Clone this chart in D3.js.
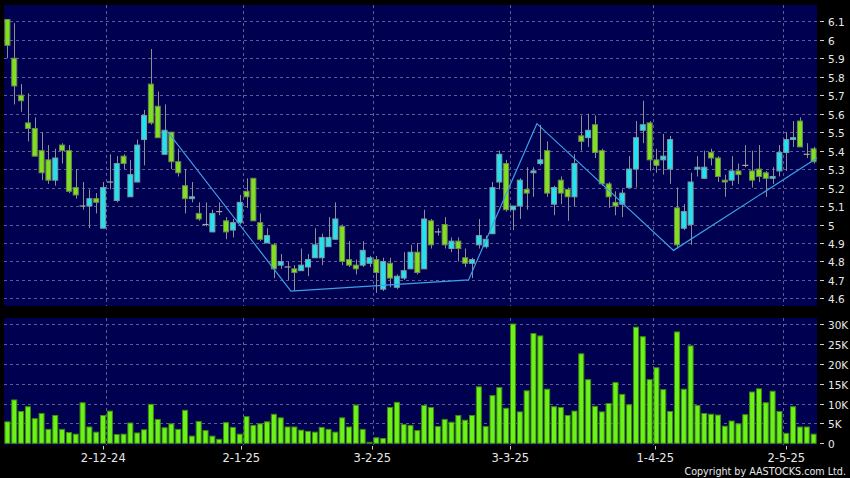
<!DOCTYPE html>
<html><head><meta charset="utf-8">
<script src="https://cdn.jsdelivr.net/npm/d3@7"></script>
<style>html,body{margin:0;padding:0;background:#000;}svg{display:block;}</style>
</head><body>
<svg id="c" width="850" height="478"></svg>
<script>
// ---------- DATA ----------
const dates = [
 "2024-11-11","2024-11-12","2024-11-13","2024-11-14","2024-11-15","2024-11-18","2024-11-19","2024-11-20","2024-11-21","2024-11-22",
 "2024-11-25","2024-11-26","2024-11-27","2024-11-28","2024-11-29","2024-12-02","2024-12-03","2024-12-04","2024-12-05","2024-12-06",
 "2024-12-09","2024-12-10","2024-12-11","2024-12-12","2024-12-13","2024-12-16","2024-12-17","2024-12-18","2024-12-19","2024-12-20",
 "2024-12-23","2024-12-24","2024-12-27","2024-12-30","2024-12-31","2025-01-02","2025-01-03","2025-01-06","2025-01-07","2025-01-08",
 "2025-01-09","2025-01-10","2025-01-13","2025-01-14","2025-01-15","2025-01-16","2025-01-17","2025-01-20","2025-01-21","2025-01-22",
 "2025-01-23","2025-01-24","2025-01-27","2025-01-28","2025-02-03","2025-02-04","2025-02-05","2025-02-06","2025-02-07","2025-02-10",
 "2025-02-11","2025-02-12","2025-02-13","2025-02-14","2025-02-17","2025-02-18","2025-02-19","2025-02-20","2025-02-21","2025-02-24",
 "2025-02-25","2025-02-26","2025-02-27","2025-02-28","2025-03-03","2025-03-04","2025-03-05","2025-03-06","2025-03-07","2025-03-10",
 "2025-03-11","2025-03-12","2025-03-13","2025-03-14","2025-03-17","2025-03-18","2025-03-19","2025-03-20","2025-03-21","2025-03-24",
 "2025-03-25","2025-03-26","2025-03-27","2025-03-28","2025-03-31","2025-04-01","2025-04-02","2025-04-03","2025-04-07","2025-04-08",
 "2025-04-09","2025-04-10","2025-04-11","2025-04-14","2025-04-15","2025-04-16","2025-04-17","2025-04-22","2025-04-23","2025-04-24",
 "2025-04-25","2025-04-28","2025-04-29","2025-04-30","2025-05-02","2025-05-06","2025-05-07","2025-05-08","2025-05-09"];

const open = [
 6.11,5.90,5.70,5.55,5.52,5.40,5.35,5.24,5.43,5.40,
 5.20,5.10,5.10,5.14,4.98,5.23,5.13,5.37,5.15,5.23,
 5.46,5.76,5.64,5.38,5.50,5.34,5.21,5.14,5.06,5.00,
 4.96,5.07,5.02,4.97,5.01,5.18,5.25,5.01,4.90,4.89,
 4.78,4.77,4.76,4.75,4.77,4.82,4.82,4.88,4.92,4.99,
 4.81,4.78,4.78,4.79,4.81,4.65,4.79,4.66,4.71,4.76,
 4.85,4.76,5.02,4.96,5.00,4.87,4.91,4.82,4.79,4.89,
 4.88,4.95,5.23,5.33,5.08,5.10,5.19,5.28,5.33,5.40,
 5.11,5.24,5.19,5.15,5.48,5.47,5.54,5.40,5.22,5.12,
 5.11,5.20,5.30,5.51,5.55,5.35,5.35,5.30,5.09,4.98,
 5.00,5.30,5.25,5.39,5.36,5.24,5.24,5.29,5.32,5.29,
 5.30,5.28,5.25,5.29,5.39,5.46,5.56,5.38,5.41];
const high = [
 6.11,6.09,5.76,5.71,5.58,5.50,5.43,5.41,5.44,5.43,
 5.30,5.23,5.19,5.17,5.23,5.38,5.37,5.38,5.35,5.46,
 5.62,5.95,5.72,5.65,5.50,5.41,5.30,5.23,5.12,5.12,
 5.08,5.12,5.04,5.03,5.16,5.25,5.25,5.06,4.98,4.90,
 4.84,4.80,4.78,4.87,4.84,4.98,4.95,5.04,5.12,5.00,
 4.91,4.81,4.91,4.83,4.83,4.82,4.82,4.73,4.85,4.89,
 4.90,5.08,5.03,4.98,5.04,4.93,4.93,4.87,4.82,5.03,
 4.94,5.23,5.40,5.35,5.10,5.25,5.31,5.31,5.54,5.45,
 5.21,5.26,5.20,5.38,5.59,5.60,5.59,5.41,5.23,5.18,
 5.19,5.37,5.56,5.67,5.56,5.41,5.49,5.48,5.20,5.11,
 5.28,5.37,5.40,5.41,5.37,5.27,5.37,5.33,5.43,5.40,
 5.43,5.29,5.31,5.43,5.50,5.56,5.58,5.44,5.42];
const low = [
 5.90,5.65,5.61,5.45,5.37,5.24,5.22,5.21,5.33,5.17,
 5.14,5.08,4.98,5.06,4.98,5.19,5.12,5.30,5.15,5.23,
 5.32,5.54,5.47,5.38,5.30,5.26,5.06,5.12,5.02,4.99,
 4.96,5.05,4.92,4.93,5.00,5.09,5.02,4.91,4.90,4.71,
 4.76,4.70,4.64,4.75,4.72,4.82,4.78,4.88,4.92,4.78,
 4.77,4.73,4.77,4.77,4.63,4.64,4.66,4.65,4.70,4.76,
 4.73,4.76,4.87,4.94,4.87,4.85,4.80,4.77,4.71,4.87,
 4.87,4.95,5.19,5.07,4.97,5.03,5.08,5.15,5.32,5.15,
 5.05,5.11,5.02,5.10,5.40,5.42,5.36,5.21,5.09,5.05,
 5.04,5.20,5.20,5.44,5.29,5.28,5.27,5.22,4.87,4.97,
 4.89,5.26,5.25,5.32,5.23,5.15,5.21,5.22,5.31,5.20,
 5.23,5.15,5.22,5.26,5.29,5.42,5.42,5.36,5.33];
const close = [
 5.97,5.75,5.67,5.52,5.37,5.28,5.24,5.36,5.40,5.18,
 5.16,5.10,5.14,5.12,5.20,5.23,5.33,5.33,5.27,5.43,
 5.59,5.55,5.47,5.51,5.34,5.28,5.14,5.15,5.03,5.00,
 5.06,5.07,4.96,5.01,5.12,5.15,5.02,4.92,4.94,4.76,
 4.80,4.77,4.74,4.78,4.81,4.89,4.93,4.93,5.03,4.80,
 4.78,4.76,4.86,4.82,4.74,4.80,4.71,4.72,4.75,4.85,
 4.74,5.03,4.89,4.96,4.89,4.91,4.87,4.79,4.81,4.94,
 4.92,5.20,5.38,5.08,5.10,5.24,5.17,5.29,5.35,5.17,
 5.20,5.17,5.15,5.33,5.45,5.51,5.39,5.22,5.15,5.10,
 5.17,5.30,5.47,5.54,5.35,5.32,5.37,5.46,4.89,5.07,
 5.23,5.31,5.31,5.36,5.26,5.23,5.29,5.27,5.32,5.24,
 5.26,5.25,5.26,5.39,5.46,5.47,5.42,5.38,5.34];
const volume = [
 5400,10900,8000,9200,6200,7500,3500,7000,3500,2700,
 2300,10200,4100,2800,7000,8100,2200,2300,5100,2600,
 3400,9800,6000,3900,4900,3500,8300,1800,5500,3200,
 1800,1000,5200,4000,2300,6700,4500,4900,5400,7300,
 6400,4100,4100,3300,3000,2800,4000,3500,2800,6400,
 4100,9600,3500,250,1400,1200,9000,10300,4700,4500,
 3200,9500,9000,4200,6000,5300,7000,5800,7000,14200,
 4200,12000,14000,8800,30000,7900,13200,27600,27000,13600,
 9200,9000,7000,8100,22500,16000,9300,7900,10000,15300,
 12300,9700,29200,26800,16000,19000,13500,8000,28000,13600,
 24500,9500,7500,7300,7100,4300,5600,4900,7200,12900,
 13700,10200,13100,8000,2500,9200,4100,4100,2300];

const priceTicks = [4.6,4.7,4.8,4.9,5.0,5.1,5.2,5.3,5.4,5.5,5.6,5.7,5.8,5.9,6.0,6.1];
const volumeTicks = [0,5000,10000,15000,20000,25000,30000];
const volumeTickLabels = ["0","5K","10K","15K","20K","25K","30K"];
const monthTickDates = ["2024-12-02","2025-01-02","2025-02-03","2025-03-03","2025-04-01","2025-05-02"];
const monthTickLabels = ["2-12-24","2-1-25","3-2-25","3-3-25","1-4-25","2-5-25"];
const trendDates = ["2024-12-13","2025-01-13","2025-02-21","2025-03-07","2025-04-07","2025-05-09"];
const trendValues = [5.50,4.64,4.70,5.546,4.86,5.36];

// ---------- CHART ----------
const W = 850, H = 478;
const L = 4, R = 817;
const pTop = 5, pBot = 306, vTop = 318, vBot = 445;
const BG = "#000050", GRID = "#5c5c92";
const GREEN = "#80e020", CYAN = "#22e2f0";

const svg = d3.select("#c");
svg.append("rect").attr("width", W).attr("height", H).attr("fill", "#000");

const rows = dates.map((d, i) => ({date: d, o: open[i], h: high[i], l: low[i], c: close[i], v: volume[i]}));

const x = d3.scaleBand().domain(dates).range([L, R]).paddingInner(0.12).paddingOuter(0.06);
const slot = d => x(d) - (x.step() - x.bandwidth()) / 2;
const xl = d3.scaleBand().domain(dates).range([-0.2, 820.8]);
const y = d3.scaleLinear().domain([4.6, 6.1]).range([298.4, 21.3]);
const vy = d3.scaleLinear().domain([0, 30000]).range([443.3, 324]);

// panels
svg.append("rect").attr("x", L).attr("y", pTop).attr("width", R - L).attr("height", pBot - pTop).attr("fill", BG);
svg.append("rect").attr("x", L).attr("y", vTop).attr("width", R - L).attr("height", vBot - vTop).attr("fill", BG);

const grid = svg.append("g").attr("stroke", GRID).attr("stroke-width", 1).attr("stroke-dasharray", "3,3").attr("fill", "none");
priceTicks.forEach(v => {
  const yy = Math.round(y(v)) + 0.5;
  grid.append("line").attr("x1", L).attr("x2", R).attr("y1", yy).attr("y2", yy);
});
volumeTicks.filter(v => v > 0).forEach(v => {
  const yy = Math.round(vy(v)) + 0.5;
  grid.append("line").attr("x1", L).attr("x2", R).attr("y1", yy).attr("y2", yy);
});
monthTickDates.forEach(d => {
  const xx = Math.round(slot(d)) + 0.5;
  grid.append("line").attr("x1", xx).attr("x2", xx).attr("y1", pTop).attr("y2", pBot);
  grid.append("line").attr("x1", xx).attr("x2", xx).attr("y1", vTop).attr("y2", vBot);
});

// candles
const cg = svg.append("g");
cg.selectAll("line.wick").data(rows).join("line")
  .attr("class", "wick")
  .attr("x1", d => Math.round(x(d.date) + x.bandwidth() / 2) + 0.5)
  .attr("x2", d => Math.round(x(d.date) + x.bandwidth() / 2) + 0.5)
  .attr("y1", d => y(d.h)).attr("y2", d => y(d.l))
  .attr("stroke", "#8e8e8e").attr("stroke-width", 1);

cg.selectAll("rect.body").data(rows.filter(d => d.o !== d.c)).join("rect")
  .attr("class", "body")
  .attr("x", d => x(d.date) + 0.5)
  .attr("width", x.bandwidth() - 1)
  .attr("y", d => y(Math.max(d.o, d.c)))
  .attr("height", d => Math.max(1.5, Math.abs(y(d.o) - y(d.c))))
  .attr("fill", d => d.c > d.o ? CYAN : GREEN)
  .attr("stroke", d => d.c > d.o ? "#7f9aa2" : "#6f8a52")
  .attr("stroke-width", 1);

cg.selectAll("line.doji").data(rows.filter(d => d.o === d.c)).join("line")
  .attr("class", "doji")
  .attr("x1", d => x(d.date)).attr("x2", d => x(d.date) + x.bandwidth())
  .attr("y1", d => y(d.o)).attr("y2", d => y(d.o))
  .attr("stroke", "#a8a8a8").attr("stroke-width", 1.2);

// trend line
const trend = trendDates.map((d, i) => ({date: d, v: trendValues[i], last: i === trendDates.length - 1}));
svg.append("path").datum(trend)
  .attr("d", d3.line().x(d => d.last ? slot(d.date) + x.step() : slot(d.date)).y(d => y(d.v)))
  .attr("fill", "none").attr("stroke", "#3d9fe6").attr("stroke-width", 1.2);

// volume bars
svg.append("g").selectAll("rect").data(rows).join("rect")
  .attr("x", d => x(d.date) + 0.5)
  .attr("width", x.bandwidth() - 1)
  .attr("y", d => vy(d.v))
  .attr("height", d => Math.max(0.5, vy(0) - vy(d.v)))
  .attr("fill", "#6cf21a").attr("stroke", "#3e8c0c").attr("stroke-width", 1);

// right axis (price)
const ax = svg.append("g").attr("font-family", "DejaVu Sans, Verdana, sans-serif").attr("fill", "#e8e8e8");
const fmtP = v => d3.format(".1f")(v).replace(/\.0$/, "");
priceTicks.forEach(v => {
  const yy = Math.round(y(v)) + 0.5;
  ax.append("line").attr("x1", 820).attr("x2", 824).attr("y1", yy).attr("y2", yy).attr("stroke", "#cfcfcf");
  ax.append("text").attr("x", 828).attr("y", y(v) + 1).attr("dominant-baseline", "central")
    .attr("font-size", 10.5).text(fmtP(v));
});
volumeTicks.forEach((v, i) => {
  const yy = Math.round(vy(v)) + 0.5;
  ax.append("line").attr("x1", 820).attr("x2", 824).attr("y1", yy).attr("y2", yy).attr("stroke", "#cfcfcf");
  ax.append("text").attr("x", 828).attr("y", vy(v) + 1).attr("dominant-baseline", "central")
    .attr("font-size", 10.5).text(volumeTickLabels[i]);
});
// bottom axis (dates)
monthTickDates.forEach((d, i) => {
  const xx = Math.round(xl(d)) + 0.5;
  ax.append("line").attr("x1", xx).attr("x2", xx).attr("y1", 446).attr("y2", 449.5).attr("stroke", "#cfcfcf");
  ax.append("text").attr("x", xl(d)).attr("y", 462).attr("text-anchor", "middle")
    .attr("font-size", 11.5).text(monthTickLabels[i]);
});
ax.append("text").attr("x", 846).attr("y", 475).attr("text-anchor", "end")
  .attr("font-size", 9.6).text("Copyright by AASTOCKS.com Ltd.");
</script>
</body></html>
